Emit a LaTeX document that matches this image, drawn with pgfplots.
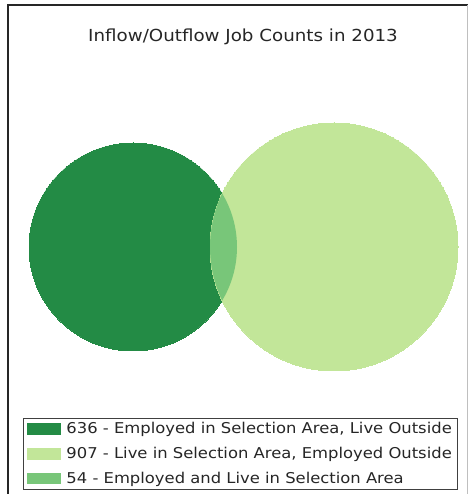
\documentclass[border=0pt]{standalone}
\usepackage{fontspec}
\setmainfont{DejaVu Sans}
\newfontfamily\vfont[FakeStretch=1.1]{DejaVu Sans}
\usepackage{pgfplots}
\pgfplotsset{compat=1.18}
\definecolor{dk}{HTML}{238B45}
\definecolor{lt}{HTML}{C2E699}
\definecolor{md}{HTML}{78C679}
% lens mark: part of the left circle (radius = mark size) that lies inside the right circle
% (right circle centre 201pt to the right, radius 124pt)
\pgfdeclareplotmark{lens}{%
  \begin{pgfscope}
  \pgfpathcircle{\pgfpointorigin}{\pgfplotmarksize}\pgfusepath{clip}%
  \pgfsetfillcolor{md}%
  \pgfpathcircle{\pgfpoint{201pt}{0pt}}{124pt}\pgfusepath{fill}%
  \end{pgfscope}}
\begin{document}
\begin{tikzpicture}
\begin{axis}[x=1pt,y=1pt,xmin=0,xmax=468,ymin=0,ymax=494,
  enlargelimits=false, hide axis, clip=false,
  legend cell align=left,
  legend style={at={(0.0491,0.0081)},anchor=south west,
    draw=black!75, line width=1pt, fill=white,
    font=\vfont\fontsize{14.9}{17}\selectfont, text=black!85,
    row sep=8pt, inner xsep=4pt, inner ysep=2.5pt},
  legend image code/.code={\fill[#1] (0pt,-5.8pt) rectangle (34pt,5.8pt); \path (37pt,0pt);}
]
% circles: centre x, centre y, radius (pt)
\addplot[only marks, mark=*, mark size=104pt, mark options={fill=dk, draw=dk, line width=0pt}, forget plot] coordinates {(133,247)};
\addplot[only marks, mark=*, mark size=124pt, mark options={fill=lt, draw=lt, line width=0pt}, forget plot] coordinates {(334,247)};
\addplot[only marks, mark=lens, mark size=104pt, forget plot] coordinates {(133,247)};
\addlegendimage{fill=dk, draw=none}
\addlegendentry{636 - Employed in Selection Area, Live Outside}
\addlegendimage{fill=lt, draw=none}
\addlegendentry{907 - Live in Selection Area, Employed Outside}
\addlegendimage{fill=md, draw=none}
\addlegendentry{54 - Employed and Live in Selection Area}
\node[anchor=base, text=black!85, font=\vfont\fontsize{16.6}{20}\selectfont] at (axis cs:243,452.3) {Inflow/Outflow Job Counts in 2013};
\draw[black!85, line width=2pt] (axis cs:8,0) -- (axis cs:8,489) -- (axis cs:468,489);
\draw[black!25, line width=1pt] (axis cs:467,489) -- (axis cs:467,0);
\end{axis}
\pgfresetboundingbox
\path (current axis.south west) rectangle (current axis.north east);
\end{tikzpicture}
\end{document}
